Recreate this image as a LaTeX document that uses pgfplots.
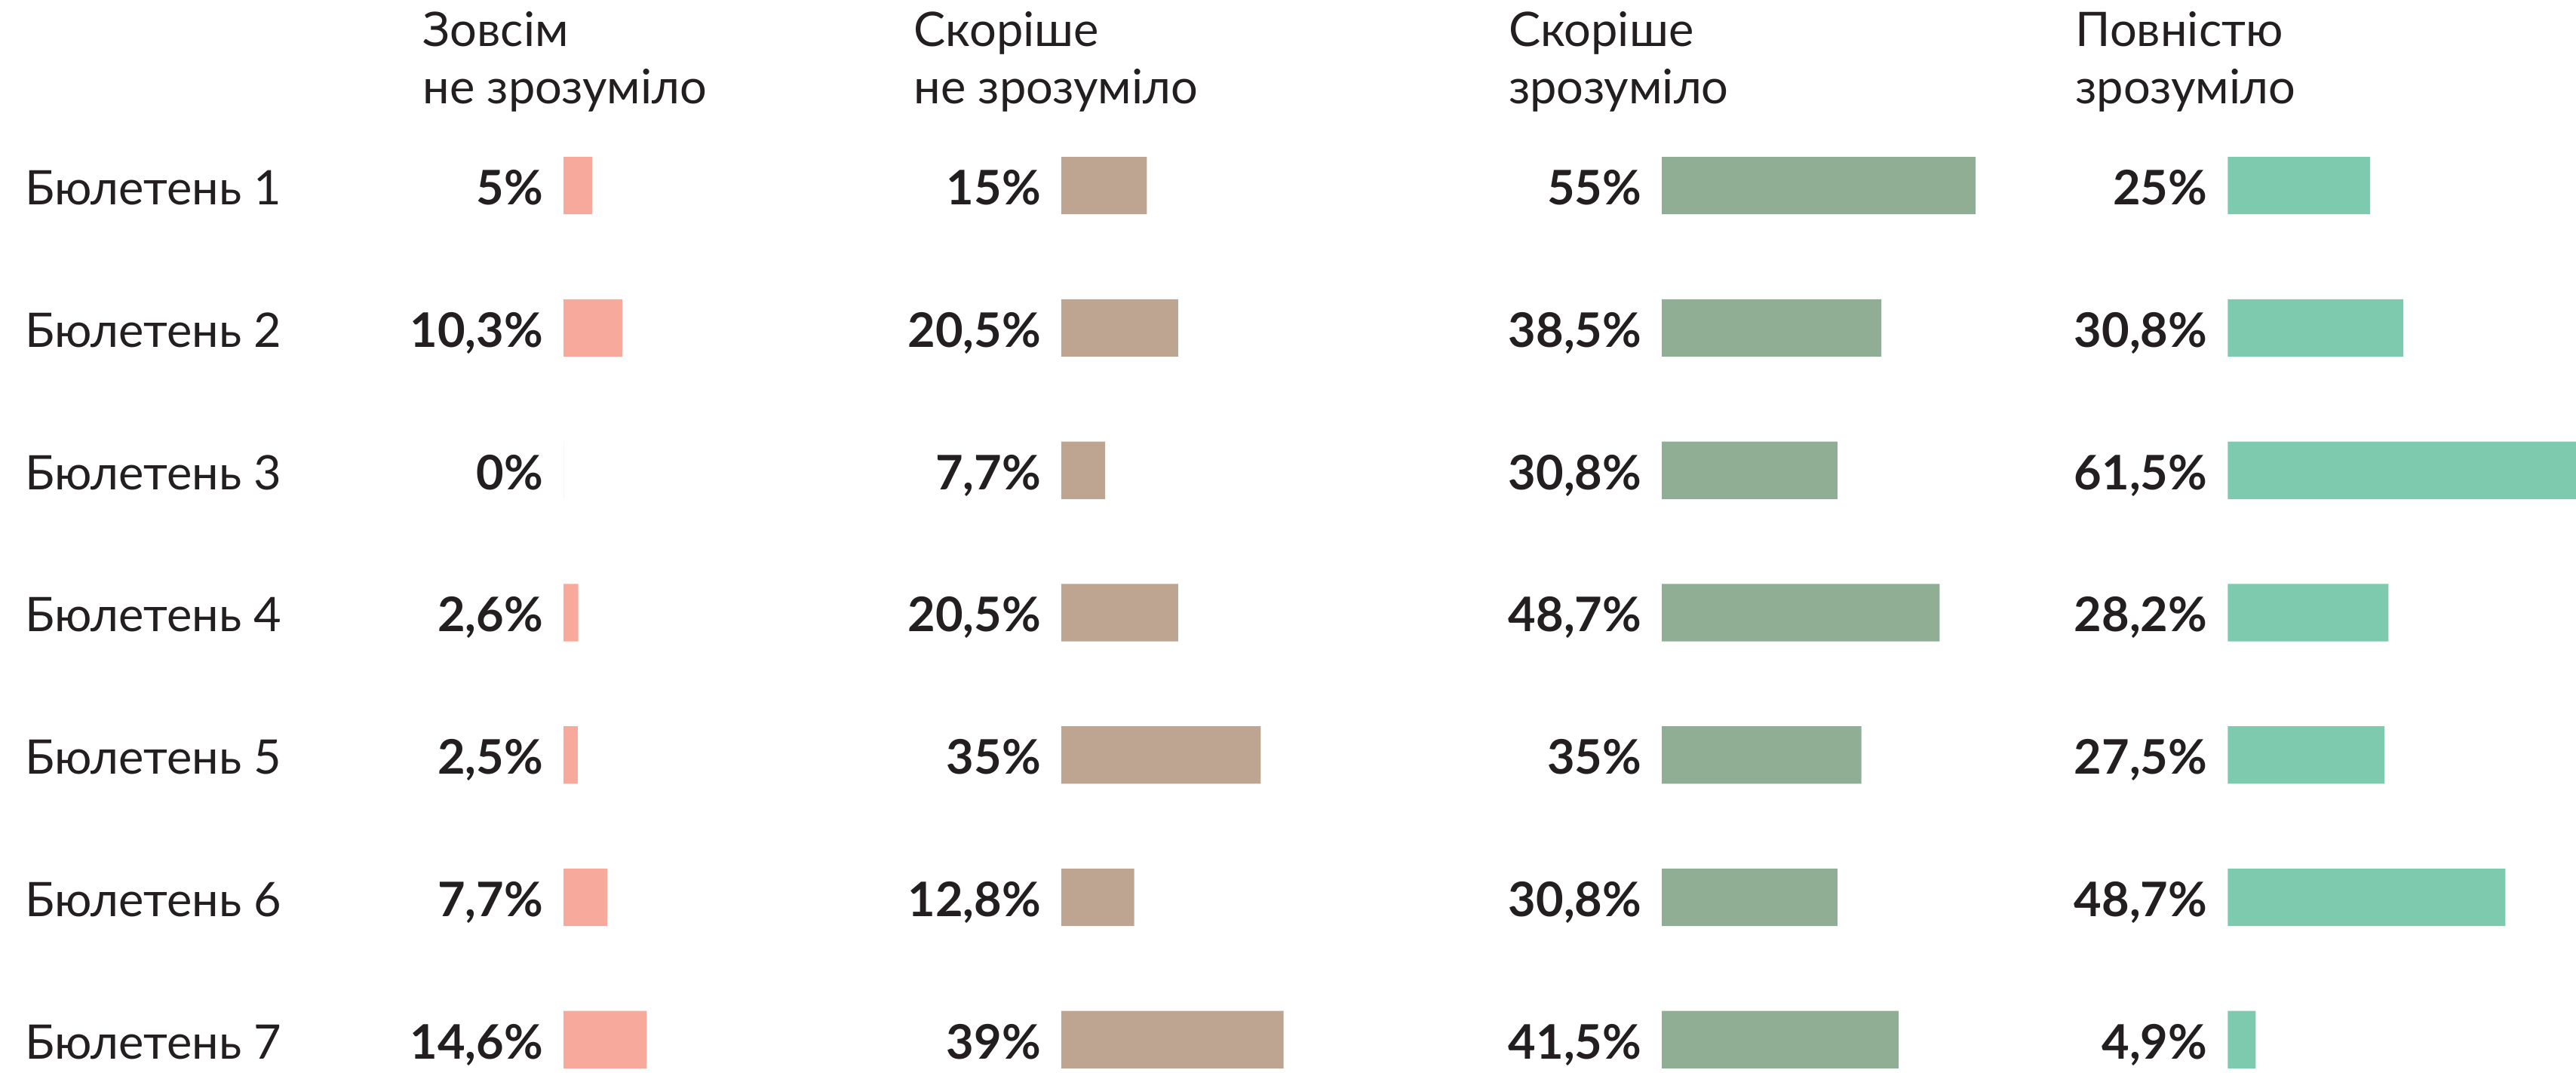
\documentclass[border=0pt]{standalone}
\usepackage{pgfplots}
\pgfplotsset{compat=1.18}
\usepackage{pgfplotstable}
\usepackage{fontspec}
\setmainfont{Lato}
\definecolor{cA}{HTML}{F7AA9C}
\definecolor{cB}{HTML}{BDA591}
\definecolor{cC}{HTML}{8FAE94}
\definecolor{cD}{HTML}{7DCAAE}
\definecolor{txt}{HTML}{231F20}

\pgfplotstableread{
row v
1 5
2 10.3
3 0
4 2.6
5 2.5
6 7.7
7 14.6
}\tA
\pgfplotstableread{
row v
1 15
2 20.5
3 7.7
4 20.5
5 35
6 12.8
7 39
}\tB
\pgfplotstableread{
row v
1 55
2 38.5
3 30.8
4 48.7
5 35
6 30.8
7 41.5
}\tC
\pgfplotstableread{
row v
1 25
2 30.8
3 61.5
4 28.2
5 27.5
6 48.7
7 4.9
}\tD

\newcommand{\fs}{\fontsize{14.5}{17}\selectfont}

\pgfplotsset{
  colax/.style={
    anchor=origin, x=1.735pt, y=43.333pt,
    xmin=0, xmax=65, ymin=-7.6, ymax=0,
    hide axis, clip=false,
  },
  barplot/.style={xbar, bar width=17.5pt, bar shift=0pt, draw=none, fill=#1},
  labplot/.style={
    draw=none, mark=none, point meta=explicit,
    nodes near coords={\pgfmathprintnumber[assume math mode=true,fixed,precision=1,use comma]{\pgfplotspointmeta}\%},
    every node near coord/.append style={anchor=base east, xshift=-6pt, yshift=-5.85pt,
      font=\fs\bfseries, text=txt, inner sep=0pt},
  },
}

\begin{document}
\begin{tikzpicture}[font=\fs, text=txt]
\path[use as bounding box] (0pt,0pt) rectangle (784pt,-326.5pt);

% headers
\foreach \x/\a/\b in {128.5/Зовсім/не зрозуміло, 278/Скоріше/не зрозуміло, 459/Скоріше/зрозуміло, 631.5/Повністю/зрозуміло}{
  \node[anchor=base west, inner sep=0pt] at (\x pt,-14.15pt) {\a};
  \node[anchor=base west, inner sep=0pt] at (\x pt,-31.5pt) {\b};
}
% row labels
\foreach \k in {1,...,7}{
  \node[anchor=base west, inner sep=0pt] at (7.5pt,{-62.35pt-43.333pt*(\k-1)}) {Бюлетень \k};
}

\begin{axis}[colax, at={(171.5pt,-13.17pt)}]
\addplot[barplot=cA] table[x=v, y expr=-\thisrow{row}] {\tA};
\addplot[labplot] table[x expr=0, y expr=-\thisrow{row}, meta=v] {\tA};
\end{axis}
\begin{axis}[colax, at={(323pt,-13.17pt)}]
\addplot[barplot=cB] table[x=v, y expr=-\thisrow{row}] {\tB};
\addplot[labplot] table[x expr=0, y expr=-\thisrow{row}, meta=v] {\tB};
\end{axis}
\begin{axis}[colax, at={(505.8pt,-13.17pt)}]
\addplot[barplot=cC] table[x=v, y expr=-\thisrow{row}] {\tC};
\addplot[labplot] table[x expr=0, y expr=-\thisrow{row}, meta=v] {\tC};
\end{axis}
\begin{axis}[colax, at={(678pt,-13.17pt)}]
\addplot[barplot=cD] table[x=v, y expr=-\thisrow{row}] {\tD};
\addplot[labplot] table[x expr=0, y expr=-\thisrow{row}, meta=v] {\tD};
\end{axis}
\end{tikzpicture}
\end{document}
